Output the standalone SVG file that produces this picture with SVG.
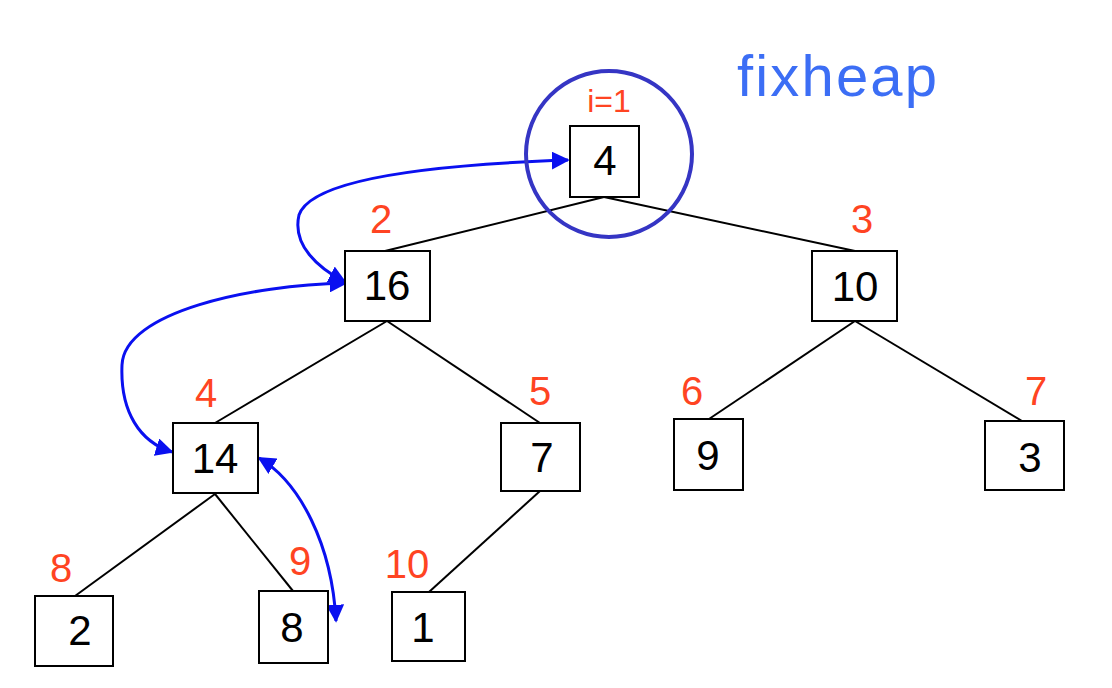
<svg xmlns="http://www.w3.org/2000/svg" width="1112" height="688" viewBox="0 0 1112 688">
  <style>
    .box { fill: #ffffff; stroke: #000000; stroke-width: 2; }
    .val { font-family: "Liberation Sans", Arial, sans-serif; font-size: 42px; fill: #000000; text-anchor: middle; }
    .idx { font-family: "Liberation Sans", Arial, sans-serif; font-size: 40px; fill: #ff4422; text-anchor: middle; }
    .edge { stroke: #000000; stroke-width: 2; fill: none; }
    .swap { stroke: #0a10f0; stroke-width: 3; fill: none; marker-start: url(#head); marker-end: url(#head); }
  </style>
  <defs>
    <marker id="head" viewBox="0 0 10 10" refX="9" refY="5" markerWidth="6" markerHeight="6" orient="auto-start-reverse" markerUnits="strokeWidth">
      <path d="M0,0 L10,5 L0,10 z" fill="#0a10f0"/>
    </marker>
  </defs>

  <!-- tree edges -->
  <g id="edges">
    <line class="edge" x1="604" y1="197" x2="385" y2="251"/>
    <line class="edge" x1="604" y1="197" x2="855" y2="251"/>
    <line class="edge" x1="387" y1="321" x2="215" y2="423"/>
    <line class="edge" x1="387" y1="321" x2="540" y2="423"/>
    <line class="edge" x1="855" y1="321" x2="709" y2="419"/>
    <line class="edge" x1="855" y1="321" x2="1022" y2="421"/>
    <line class="edge" x1="215" y1="494" x2="75" y2="596"/>
    <line class="edge" x1="215" y1="494" x2="293" y2="591"/>
    <line class="edge" x1="540" y1="491" x2="429" y2="592"/>
  </g>

  <!-- swap arrows -->
  <g id="swaps">
    <path class="swap" d="M345 282 C318 268 292 245 299 215 C312 176 450 164 568 160"/>
    <path class="swap" d="M346 283 C250 285 124 312 122 365 C120 412 140 442 172 452"/>
    <path class="swap" d="M259 458 C300 482 332 545 336 621"/>
  </g>

  <!-- current position -->
  <circle id="cursor" cx="609" cy="154" r="83" fill="none" stroke="#3535c4" stroke-width="4"/>
  <text id="title" x="737" y="96" font-family="Liberation Sans, Arial, sans-serif" font-size="58" fill="#3c6ef5" textLength="200">fixheap</text>

  <g id="n1"><rect class="box" x="570" y="126" width="69" height="71"/><text class="val" x="605" y="175">4</text><text class="idx" x="609" y="112" style="font-size:32px">i=1</text></g>
  <g id="n2"><rect class="box" x="345" y="251" width="85" height="70"/><text class="val" x="387" y="300">16</text><text class="idx" x="381" y="233">2</text></g>
  <g id="n3"><rect class="box" x="812" y="251" width="85" height="70"/><text class="val" x="855" y="301">10</text><text class="idx" x="862" y="233">3</text></g>
  <g id="n4"><rect class="box" x="173" y="423" width="85" height="70"/><text class="val" x="215" y="473">14</text><text class="idx" x="206" y="407">4</text></g>
  <g id="n5"><rect class="box" x="501" y="423" width="79" height="68"/><text class="val" x="542" y="472">7</text><text class="idx" x="540" y="405">5</text></g>
  <g id="n6"><rect class="box" x="674" y="419" width="69" height="71"/><text class="val" x="708" y="470">9</text><text class="idx" x="692" y="405">6</text></g>
  <g id="n7"><rect class="box" x="985" y="421" width="79" height="69"/><text class="val" x="1030" y="472">3</text><text class="idx" x="1036" y="405">7</text></g>
  <g id="n8"><rect class="box" x="35" y="596" width="78" height="70"/><text class="val" x="80" y="645">2</text><text class="idx" x="61" y="582">8</text></g>
  <g id="n9"><rect class="box" x="259" y="591" width="69" height="72"/><text class="val" x="292" y="642">8</text><text class="idx" x="300" y="575">9</text></g>
  <g id="n10"><rect class="box" x="392" y="592" width="73" height="69"/><text class="val" x="423" y="642">1</text><text class="idx" x="407" y="578">10</text></g>
</svg>
